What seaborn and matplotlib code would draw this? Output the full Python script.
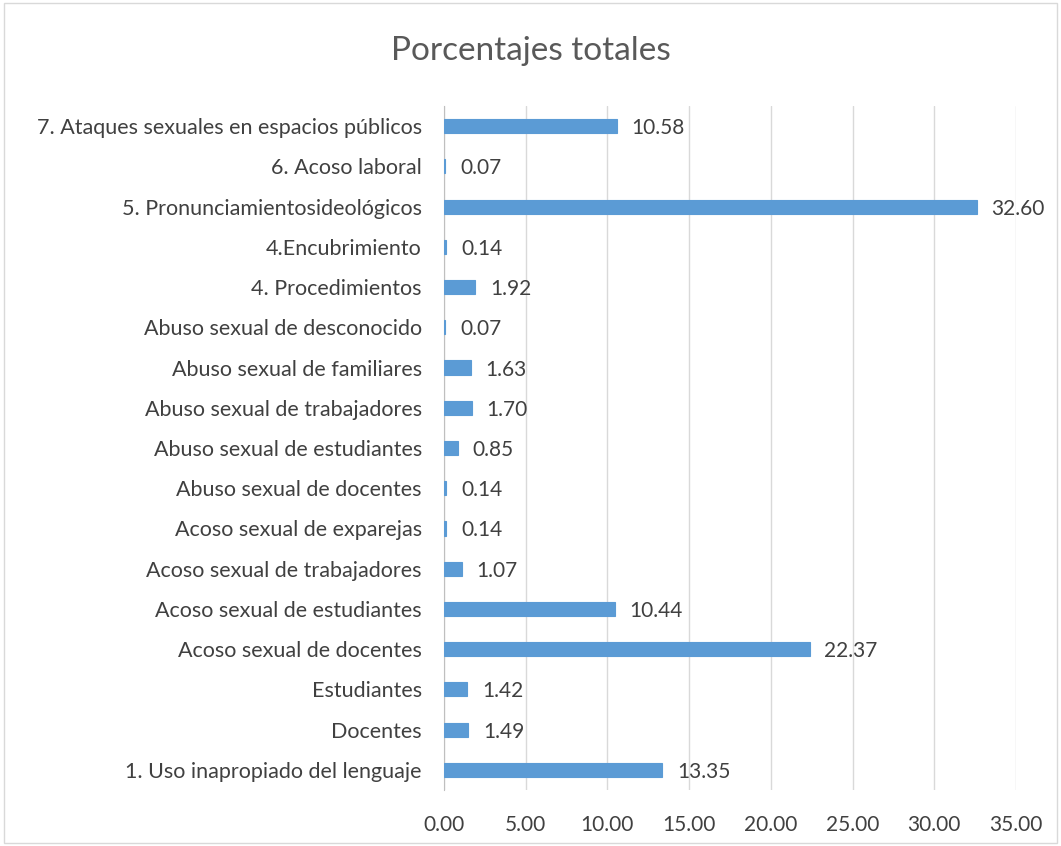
import numpy as np
import pandas as pd
import matplotlib.pyplot as plt
import seaborn as sns
from matplotlib.ticker import FormatStrFormatter
from matplotlib.patches import Rectangle

categorias = [
    "7. Ataques sexuales en espacios públicos",
    "6. Acoso laboral",
    "5. Pronunciamientosideológicos",
    "4.Encubrimiento",
    "4. Procedimientos",
    "Abuso sexual de desconocido",
    "Abuso sexual de familiares",
    "Abuso sexual de trabajadores",
    "Abuso sexual de estudiantes",
    "Abuso sexual de docentes",
    "Acoso sexual de exparejas",
    "Acoso sexual de trabajadores",
    "Acoso sexual de estudiantes",
    "Acoso sexual de docentes",
    "Estudiantes",
    "Docentes",
    "1. Uso inapropiado del lenguaje",
]
porcentajes = [10.58, 0.07, 32.60, 0.14, 1.92, 0.07, 1.63, 1.70, 0.85,
               0.14, 0.14, 1.07, 10.44, 22.37, 1.42, 1.49, 13.35]

data = pd.DataFrame({"categoria": categorias, "pct": porcentajes})

sns.set_style("white")
plt.rcParams["font.family"] = ["Lato", "DejaVu Sans"]

fig = plt.figure(figsize=(10.61, 8.46), dpi=100)
ax = fig.add_axes([0.4185, 0.0662, 0.9576 - 0.4185, 0.8747 - 0.0662])

sns.barplot(data=data, y="categoria", x="pct", color="#5B9BD5",
            width=0.35, saturation=1, ax=ax, zorder=3,
            edgecolor="#5B9BD5", linewidth=0.8)

ax.set_xlim(0, 35)
ax.set_xticks(np.arange(0, 36, 5))
ax.xaxis.set_major_formatter(FormatStrFormatter("%.2f"))
ax.grid(axis="x", color="#D9D9D9", linewidth=1, zorder=0)
ax.set_xlabel("")
ax.set_ylabel("")
for s in ["top", "right", "bottom"]:
    ax.spines[s].set_visible(False)
ax.spines["left"].set_color("#BFBFBF")
ax.tick_params(axis="x", labelsize=15, colors="#404040", length=0, pad=18)
ax.tick_params(axis="y", labelsize=15.5, colors="#404040", length=0, pad=16)

for i, v in enumerate(porcentajes):
    ax.text(v + 0.9, i + 0.05, f"{v:.2f}", va="center", ha="left",
            fontsize=15, color="#404040")

fig.text(0.5, 0.94, "Porcentajes totales", ha="center", va="center",
         fontsize=24, color="#595959")

fig.patches.append(Rectangle((0.004, 0.004), 0.992, 0.992, transform=fig.transFigure,
                             fill=False, edgecolor="#D9D9D9", linewidth=1))

fig.savefig("out.png", dpi=100)
